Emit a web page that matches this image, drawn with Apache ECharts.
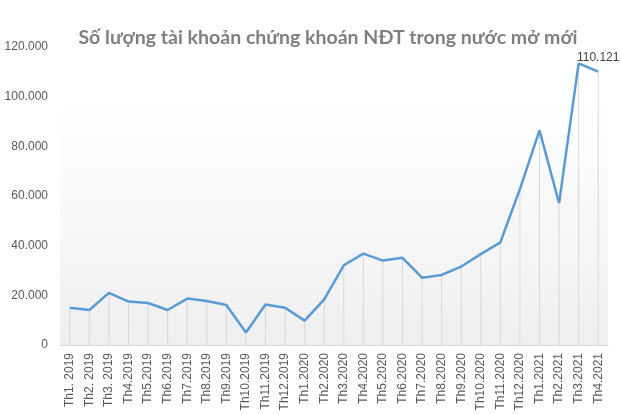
<!DOCTYPE html>
<html><head><meta charset="utf-8">
<script src="https://cdn.jsdelivr.net/npm/echarts@6/dist/echarts.min.js"></script>
<style>html,body{margin:0;padding:0;background:#fff}#c{width:621px;height:414px}</style>
</head><body><div id="c"></div>
<script>
const categories = ["Th1. 2019","Th2. 2019","Th3. 2019","Th4.2019","Th5.2019","Th6.2019","Th7.2019","Th8.2019","Th9.2019","Th10.2019","Th11.2019","Th12.2019","Th1.2020","Th2.2020","Th3.2020","Th4.2020","Th5.2020","Th6.2020","Th7.2020","Th8.2020","Th9.2020","Th10.2020","Th11.2020","Th12.2020","Th1.2021","Th2.2021","Th3.2021","Th4.2021"];
const accounts = [15000,14100,21000,17500,16900,14100,18700,17700,16100,5000,16300,15000,9800,18400,32100,36800,34000,35100,27100,28200,31600,36600,41300,62800,86400,57100,113400,110121];
const yTicks = [0,20000,40000,60000,80000,100000,120000];
const labelIndex = accounts.length - 1;

function fmt(v){ return String(v).replace(/\B(?=(\d{3})+(?!\d))/g,'.'); }

const chart = echarts.init(document.getElementById('c'));
chart.setOption({
  animation:false,
  backgroundColor:'#fff',
  title:{text:'Số lượng tài khoản chứng khoán NĐT trong nước mở mới',left:323,top:23,textAlign:'center',
    textStyle:{fontFamily:'Lato',fontWeight:'bold',fontSize:19.5,color:'#7f7f7f'}},
  grid:{left:60,right:13,top:47,bottom:69,show:true,borderWidth:0,
    backgroundColor:new echarts.graphic.LinearGradient(0,0,0,1,[{offset:0,color:'#ffffff'},{offset:0.18,color:'#ffffff'},{offset:1,color:'#efefef'}])},
  xAxis:{type:'category',data:categories,boundaryGap:true,
    axisLine:{lineStyle:{color:'#d9d9d9',width:1}},axisTick:{show:false},
    axisLabel:{rotate:90,interval:0,fontFamily:'Liberation Sans',fontSize:12,color:'#595959',margin:8}},
  yAxis:{type:'value',min:yTicks[0],max:yTicks[yTicks.length-1],interval:20000,
    splitLine:{show:false},axisLine:{show:false},axisTick:{show:false},
    axisLabel:{formatter:fmt,fontFamily:'Liberation Sans',fontSize:12,color:'#595959',margin:12}},
  series:[
    {type:'bar',data:accounts,barWidth:1,itemStyle:{color:'#d9d9d9'},silent:true,z:1},
    {type:'line',data:accounts.map((v,i)=>i===labelIndex?{value:v,label:{show:true}}:v),
      showSymbol:true,symbol:'circle',symbolSize:0,lineStyle:{color:'#5b9bd5',width:2.5},itemStyle:{color:'#5b9bd5'},z:3,
      label:{show:false,position:'top',distance:8,formatter:p=>fmt(p.value),fontFamily:'Liberation Sans',fontSize:12,color:'#404040'}}
  ]
});
</script></body></html>
